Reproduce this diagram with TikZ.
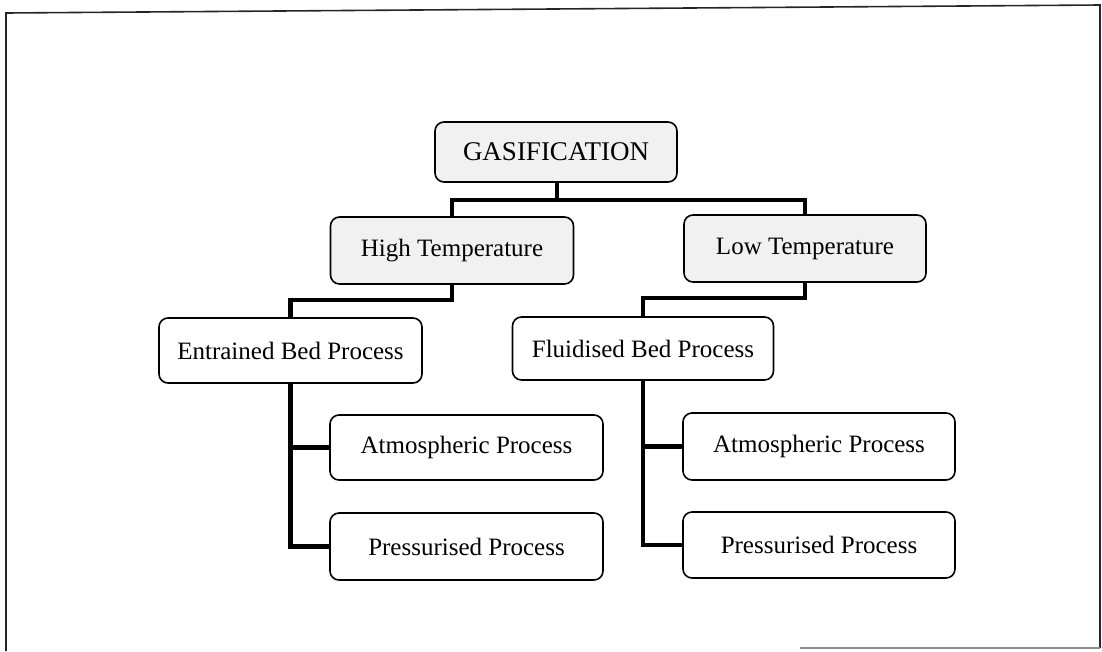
\documentclass[tikz,border=0pt]{standalone}
\usepackage{fontspec}
\setmainfont{Liberation Serif}
\begin{document}
\begin{tikzpicture}[x=1pt,y=-1pt,
  box/.style={draw=black, line width=1.6pt, rounded corners=9pt, fill=white,
    inner sep=0pt, font=\fontsize{25}{30}\selectfont},
  shaded/.style={box, fill=gray!11},
  conn/.style={draw=black, line width=4.5pt, line join=miter},
  frameline/.style={draw=black!85, line width=1.6pt}]
\useasboundingbox (0,0) rectangle (1102,651);

% outer frame
\draw[frameline] (6,651) -- (6,13) -- (1100,5) -- (1100,648);
\draw[draw=black!45, line width=1.4pt] (800,648) -- (1100,648);

% connectors (drawn first so boxes sit on top)
\coordinate (gasStem) at (557,182);
\coordinate (lvl1) at (0,200);
\coordinate (lvl2) at (0,300);

% nodes
\node[shaded, minimum width=242pt, minimum height=60pt] (gas) at (556,152)
  {\fontsize{27}{32}\selectfont GASIFICATION};
\node[shaded, minimum width=243pt, minimum height=67pt] (high) at (452,250.5) {High Temperature};
\node[shaded, minimum width=242pt, minimum height=67pt] (low) at (805,248.5) {Low Temperature};
\node[box, minimum width=263pt, minimum height=65pt] (entr) at (290.5,350.5) {Entrained Bed Process};
\node[box, minimum width=261pt, minimum height=63pt] (fluid) at (643,348.5) {Fluidised Bed Process};
\node[box, minimum width=273pt, minimum height=65pt] (atml) at (466.5,447.5) {Atmospheric Process};
\node[box, minimum width=273pt, minimum height=67pt] (prsl) at (466.5,546.5) {Pressurised Process};
\node[box, minimum width=272pt, minimum height=67pt] (atmr) at (819,446.5) {Atmospheric Process};
\node[box, minimum width=272pt, minimum height=66pt] (prsr) at (819,545) {Pressurised Process};

% tree connectors
\draw[conn] (gas.south -| gasStem) -- (gasStem |- lvl1);
\draw[conn] (high.north) -- (high.north |- lvl1) -- (low.north |- lvl1) -- (low.north);
\draw[conn] (high.south) -- (high.south |- lvl2) -| (entr.north);
\draw[conn] (low.south) -- (low.south |- 0,298) -| (fluid.north);
\draw[conn] (entr.south) |- (prsl.west);
\draw[conn] (entr.south |- atml.west) -- (atml.west);
\draw[conn] (fluid.south) |- (prsr.west);
\draw[conn] (fluid.south |- atmr.west) -- (atmr.west);
\end{tikzpicture}
\end{document}
